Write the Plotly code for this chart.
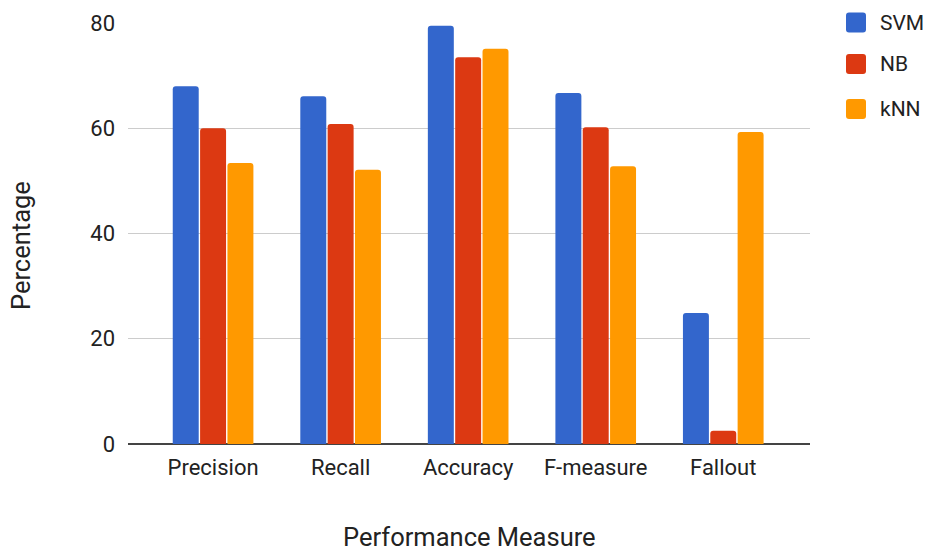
import plotly.graph_objects as go

# Classifier performance per measure (percent)
measures = ["Precision", "Recall", "Accuracy", "F-measure", "Fallout"]
svm = [68.0, 66.1, 79.5, 66.7, 24.9]
nb = [60.0, 60.8, 73.5, 60.2, 2.5]
knn = [53.4, 52.1, 75.1, 52.8, 59.3]
series_names = ["SVM", "NB", "kNN"]
series_colors = ["#3366cc", "#dc3912", "#ff9900"]
y_ticks = [0, 20, 40, 60, 80]

W, H = 930, 551
L, R, T, B = 128, 120, 23, 107
plot_w = W - L - R
plot_h = H - T - B

FONT = "Roboto"
TEXT = "#222222"

fig = go.Figure()
for name, vals, col in zip(series_names, [svm, nb, knn], series_colors):
    fig.add_trace(go.Bar(
        x=measures, y=vals, name=name,
        marker=dict(color=col, line=dict(width=0), cornerradius=3),
        showlegend=False,
    ))


def px_x(px):
    return (px - L) / plot_w


def px_y(py):
    return (H - B - py) / plot_h


# Legend: rounded swatches with labels, stacked on the right
shapes = []
annotations = []
legend_centers = [22.5, 64, 109]
for name, col, cy in zip(series_names, series_colors, legend_centers):
    r = 3
    s = 10
    path = (f"M{-s + r},{-s} L{s - r},{-s} Q{s},{-s} {s},{-s + r} "
            f"L{s},{s - r} Q{s},{s} {s - r},{s} L{-s + r},{s} "
            f"Q{-s},{s} {-s},{s - r} L{-s},{-s + r} Q{-s},{-s} {-s + r},{-s} Z")
    shapes.append(dict(
        type="path", xref="paper", yref="paper",
        xsizemode="pixel", ysizemode="pixel",
        xanchor=px_x(856), yanchor=px_y(cy),
        path=path, fillcolor=col, line=dict(width=0),
    ))
    annotations.append(dict(
        x=px_x(878), y=px_y(cy), xref="paper", yref="paper",
        text=name, showarrow=False, xanchor="left", yanchor="middle",
        font=dict(family=FONT, size=21, color=TEXT),
    ))

# Axis titles
annotations.append(dict(
    x=px_x(469), y=px_y(537), xref="paper", yref="paper",
    text="Performance Measure", showarrow=False,
    xanchor="center", yanchor="middle",
    font=dict(family=FONT, size=25.5, color=TEXT),
))
annotations.append(dict(
    x=px_x(21), y=px_y(246), xref="paper", yref="paper",
    text="Percentage", showarrow=False, textangle=-90,
    xanchor="center", yanchor="middle",
    font=dict(family=FONT, size=25.5, color=TEXT),
))

fig.update_layout(
    width=W, height=H,
    margin=dict(l=L, r=R, t=T, b=B, pad=0),
    paper_bgcolor="white", plot_bgcolor="white",
    barmode="group", bargap=0.357, bargroupgap=0.05,
    font=dict(family=FONT, color=TEXT),
    shapes=shapes, annotations=annotations,
    xaxis=dict(
        range=[-0.667, 4.68], showgrid=False, showline=False,
        ticks="", tickfont=dict(family=FONT, size=22, color=TEXT),
        ticklabelstandoff=8, fixedrange=True,
    ),
    yaxis=dict(
        range=[0, 80], tickvals=y_ticks, showgrid=True,
        gridcolor="#cccccc", gridwidth=1,
        zeroline=True, zerolinecolor="#444444", zerolinewidth=1.5,
        showline=False, ticks="",
        tickfont=dict(family=FONT, size=22, color=TEXT),
        ticklabelstandoff=12, fixedrange=True,
    ),
)

fig.write_html("out.html")
